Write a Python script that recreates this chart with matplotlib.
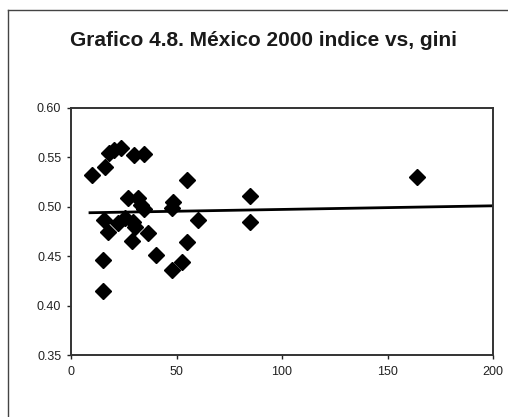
import numpy as np
import matplotlib
matplotlib.use("Agg")
import matplotlib.pyplot as plt
from matplotlib.lines import Line2D

# indice (x) vs gini (y)
indice = [9.8, 16.3, 17.8, 20.5, 23.6, 29.8, 34.7,
          27.2, 31.8, 33.0, 34.5,
          15.5, 17.7, 22.4, 25.6, 29.6, 30.4, 29.0, 36.7, 40.5,
          15.3, 15.3,
          54.9, 48.5, 47.8, 60.4, 54.9, 52.5, 48.0,
          84.9, 84.9, 164.0]
gini = [0.532, 0.540, 0.554, 0.557, 0.560, 0.552, 0.553,
        0.509, 0.509, 0.502, 0.498,
        0.487, 0.474, 0.484, 0.489, 0.485, 0.480, 0.465, 0.473, 0.451,
        0.446, 0.415,
        0.527, 0.505, 0.499, 0.487, 0.464, 0.444, 0.436,
        0.511, 0.485, 0.530]

# linear trend line as drawn (start / end)
trend_x = [9, 200]
trend_y = [0.494, 0.501]

xticks = [0, 50, 100, 150, 200]
yticks = [0.35, 0.40, 0.45, 0.50, 0.55, 0.60]

plt.rcParams['font.family'] = ['Liberation Sans', 'DejaVu Sans']

W, H = 508, 417
fig = plt.figure(figsize=(W / 100, H / 100), dpi=100)
fig.patch.set_facecolor('white')

# outer chart-area border (bottom edge is cut off in the scan)
bx, by = 8 / W, 1 - 10 / H
fig.add_artist(Line2D([bx, 1.0], [by, by], transform=fig.transFigure,
                      color='#444444', linewidth=1.0))
fig.add_artist(Line2D([bx, bx], [0.0, by], transform=fig.transFigure,
                      color='#444444', linewidth=1.0))

ax = fig.add_axes([71 / W, (H - 355) / H, (493 - 71) / W, (355 - 108) / H])

ax.plot(trend_x, trend_y, color='black', linewidth=2.0, zorder=2)
ax.plot(indice, gini, linestyle='none', marker='D', markersize=7.8,
        color='black', zorder=3)

ax.set_xlim(0, 200)
ax.set_ylim(0.35, 0.60)
ax.set_xticks(xticks)
ax.set_xticklabels([str(t) for t in xticks])
ax.set_yticks(yticks)
ax.set_yticklabels([f"{t:.2f}" for t in yticks])
ax.tick_params(axis='both', direction='out', length=3, width=1, labelsize=9,
               colors='#222222')
ax.tick_params(axis='x', pad=5)
ax.tick_params(axis='y', pad=4)
for sp in ax.spines.values():
    sp.set_color('#333333')
    sp.set_linewidth(1.4)

fig.text(263 / W, 1 - 40 / H, "Grafico 4.8. México 2000 indice vs, gini",
         ha='center', va='center', fontsize=15, fontweight='bold',
         color='#1a1a1a')

fig.savefig('out.png', dpi=100)
